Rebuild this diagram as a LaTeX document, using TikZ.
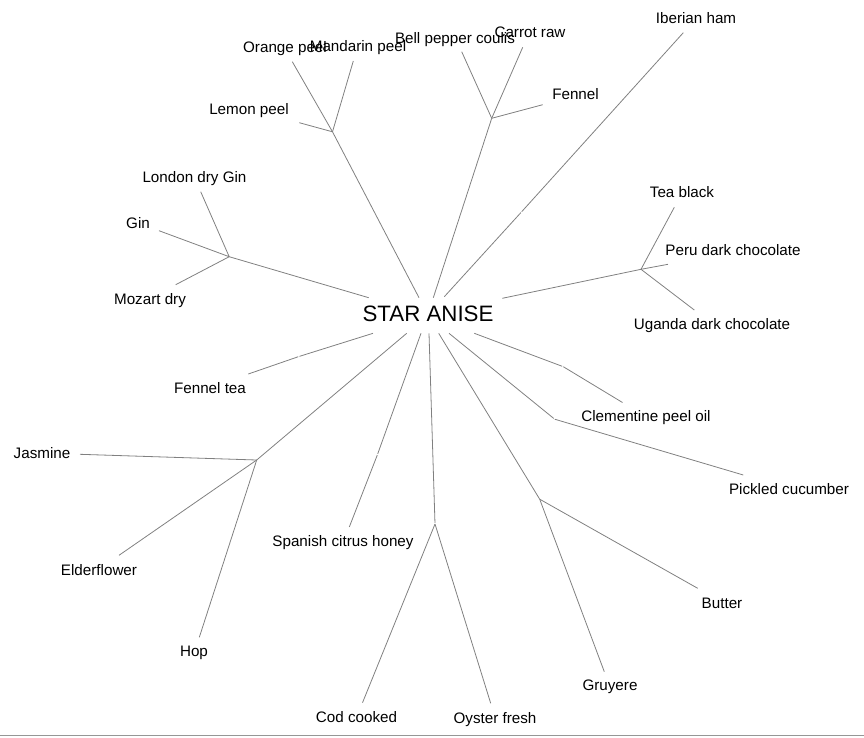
\documentclass[tikz,border=0pt]{standalone}
\usepackage{fontspec}
\setmainfont{Liberation Sans}
\definecolor{linegray}{RGB}{128,128,128}
\definecolor{framegray}{RGB}{150,150,150}
\begin{document}
\begin{tikzpicture}[x=1pt,y=-1pt,
  lbl/.style={font=\fontsize{15.2}{17}\selectfont, inner sep=0pt, text height=0.72em, text depth=0pt, anchor=center, yshift=-2pt},
  rootlbl/.style={font=\fontsize{22.3}{24}\selectfont, inner sep=0pt, text height=0.72em, text depth=0pt, anchor=center, yshift=-4pt},
  branch/.style={draw=linegray, line width=0.8pt},
  gapbranch/.style={branch, shorten >=1.2pt},
]
\useasboundingbox (0,0) rectangle (864,737);
% frame line at bottom
\coordinate (fl) at (0,735.5);
\coordinate (fr) at (864,735.5);
\draw[draw=framegray, line width=1pt] (fl) -- (fr);

% root
\node[rootlbl] (root) at (428,314) {STAR ANISE};

% labels
\node[lbl] (orange) at (285,47) {Orange peel};
\node[lbl] (mandarin) at (358,46) {Mandarin peel};
\node[lbl] (lemon) at (249,109) {Lemon peel};
\node[lbl] (bell) at (455,38) {Bell pepper coulis};
\node[lbl] (carrot) at (530,32) {Carrot raw};
\node[lbl] (fennel) at (575.5,94) {Fennel};
\node[lbl] (iberian) at (696,18) {Iberian ham};
\node[lbl] (london) at (194.5,177) {London dry Gin};
\node[lbl] (gin) at (138,223) {Gin};
\node[lbl] (mozart) at (150,299) {Mozart dry};
\node[lbl] (fenneltea) at (210,388) {Fennel tea};
\node[lbl] (tea) at (682,192) {Tea black};
\node[lbl] (peru) at (733,250) {Peru dark chocolate};
\node[lbl] (uganda) at (712,324) {Uganda dark chocolate};
\node[lbl] (clementine) at (646,416) {Clementine peel oil};
\node[lbl] (pickled) at (789,489) {Pickled cucumber};
\node[lbl] (jasmine) at (42,453) {Jasmine};
\node[lbl] (elder) at (99,570) {Elderflower};
\node[lbl] (hop) at (194,651) {Hop};
\node[lbl] (honey) at (343,541) {Spanish citrus honey};
\node[lbl] (cod) at (356.5,717) {Cod cooked};
\node[lbl] (oyster) at (495,718) {Oyster fresh};
\node[lbl] (gruyere) at (610,685) {Gruyere};
\node[lbl] (butter) at (722,603) {Butter};

% branch start points near root
\coordinate (sOr) at (419,297.7);
\coordinate (sBell) at (433.3,297.7);
\coordinate (sIb) at (444.3,296.7);
\coordinate (sGin) at (368.7,297.7);
\coordinate (sCh) at (502.3,298.3);
\coordinate (sFt) at (373,333.3);
\coordinate (sJ) at (406.7,333.3);
\coordinate (sSp) at (421,333.3);
\coordinate (sCod) at (429,333.3);
\coordinate (sGr) at (438.7,333.3);
\coordinate (sPk) at (449,333.3);
\coordinate (sCl) at (474.3,333.3);

% junctions and kinks
\coordinate (jOr) at (332.5,131.8);
\coordinate (jBell) at (491.7,118.3);
\coordinate (kIb) at (521.7,211.7);
\coordinate (jGin) at (229.2,256.7);
\coordinate (jCh) at (641,269.3);
\coordinate (kFt) at (298.3,356.7);
\coordinate (jJ) at (256.7,460);
\coordinate (kSp) at (377.3,455);
\coordinate (jCod) at (435,524);
\coordinate (jGr) at (539.7,499.2);
\coordinate (jPk) at (554.7,419.2);
\coordinate (kCl) at (563.3,366.7);

% leaf ends
\coordinate (eOrange) at (292.3,61.7);
\coordinate (eMandarin) at (353.3,61);
\coordinate (eLemon) at (299.3,122.7);
\coordinate (eBell) at (461.7,51.7);
\coordinate (eCarrot) at (522.7,47.3);
\coordinate (eFennel) at (542.7,104.7);
\coordinate (eIberian) at (683.3,32.7);
\coordinate (eLondon) at (200.7,191.7);
\coordinate (eGin) at (159,230.7);
\coordinate (eMozart) at (175.7,284.7);
\coordinate (eTea) at (674.3,207.3);
\coordinate (ePeru) at (668,264.3);
\coordinate (eUganda) at (694.3,310);
\coordinate (eFt) at (248.3,374);
\coordinate (eJasmine) at (80,454.3);
\coordinate (eElder) at (119,555.3);
\coordinate (eHop) at (199.3,637.3);
\coordinate (eHoney) at (349.3,527);
\coordinate (eCod) at (362.5,702.7);
\coordinate (eOyster) at (490.7,703.3);
\coordinate (eGruyere) at (604.3,671.7);
\coordinate (eButter) at (697.7,588.3);
\coordinate (ePickled) at (743.3,475);
\coordinate (eClem) at (622.5,402.5);

% citrus peels
\draw[branch] (sOr) -- (jOr);
\draw[branch] (jOr) -- (eOrange);
\draw[branch] (jOr) -- (eMandarin);
\draw[branch] (jOr) -- (eLemon);
% bell pepper group
\draw[branch] (sBell) -- (jBell);
\draw[branch] (jBell) -- (eBell);
\draw[branch] (jBell) -- (eCarrot);
\draw[branch] (jBell) -- (eFennel);
% iberian ham
\draw[gapbranch] (sIb) -- (kIb);
\draw[branch] (kIb) -- (eIberian);
% gin group
\draw[branch] (sGin) -- (jGin);
\draw[branch] (jGin) -- (eLondon);
\draw[branch] (jGin) -- (eGin);
\draw[branch] (jGin) -- (eMozart);
% chocolate group
\draw[branch] (sCh) -- (jCh);
\draw[branch] (jCh) -- (eTea);
\draw[branch] (jCh) -- (ePeru);
\draw[branch] (jCh) -- (eUganda);
% fennel tea
\draw[gapbranch] (sFt) -- (kFt);
\draw[branch] (kFt) -- (eFt);
% jasmine group
\draw[branch] (sJ) -- (jJ);
\draw[branch] (jJ) -- (eJasmine);
\draw[branch] (jJ) -- (eElder);
\draw[branch] (jJ) -- (eHop);
% honey
\draw[gapbranch] (sSp) -- (kSp);
\draw[branch] (kSp) -- (eHoney);
% cod / oyster
\draw[gapbranch] (sCod) -- (jCod);
\draw[branch] (jCod) -- (eCod);
\draw[branch] (jCod) -- (eOyster);
% gruyere / butter
\draw[branch] (sGr) -- (jGr);
\draw[branch] (jGr) -- (eGruyere);
\draw[branch] (jGr) -- (eButter);
% pickled cucumber
\draw[gapbranch] (sPk) -- (jPk);
\draw[branch] (jPk) -- (ePickled);
% clementine
\draw[gapbranch] (sCl) -- (kCl);
\draw[branch] (kCl) -- (eClem);
\end{tikzpicture}
\end{document}
